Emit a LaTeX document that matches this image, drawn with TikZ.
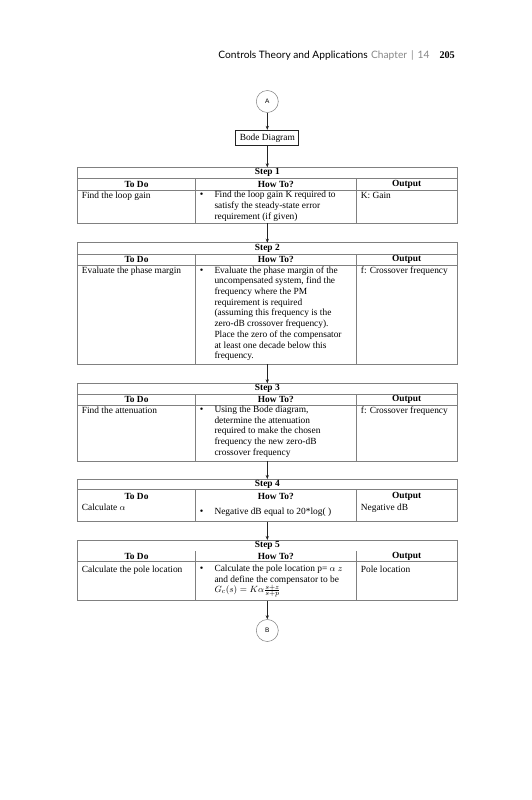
\documentclass[tikz,border=0pt]{standalone}
\usepackage{fontspec}
\setmainfont{Liberation Serif}
\setsansfont{Liberation Sans}
\newfontfamily\headfont{Lato}
\usepackage{xcolor}
\definecolor{rule-gray}{RGB}{128,128,128}
\definecolor{ink-dark}{RGB}{35,35,35}
\definecolor{head-gray}{RGB}{135,135,135}
\usetikzlibrary{arrows.meta,positioning}
\newcommand{\bodyfont}{\fontsize{9.4}{10.7}\selectfont}

\begin{document}
\begin{tikzpicture}[
    x=1pt, y=-1pt,
    connector/.style={
        circle,
        draw=rule-gray,
        line width=0.5pt,
        minimum size=22pt,
        inner sep=0pt,
        font=\sffamily\fontsize{6.5}{7}\selectfont
    },
    flow/.style={
        -{Stealth[length=4pt,width=3.2pt]},
        line width=0.6pt,
        draw=ink-dark
    },
    title box/.style={
        draw=ink-dark,
        line width=1.1pt,
        minimum width=63pt,
        minimum height=15pt,
        font=\bodyfont
    },
    cell/.style={
        draw=rule-gray,
        line width=0.5pt,
        anchor=north west,
        inner sep=0pt,
        outer sep=0pt
    },
    step row/.style={cell, minimum width=380pt, font=\bodyfont\bfseries},
    head cell/.style={cell, font=\bodyfont\bfseries},
    head text/.style={font=\bodyfont\bfseries, inner sep=0pt},
    col a/.style={minimum width=118.4pt},
    col b/.style={minimum width=160.3pt},
    col c/.style={minimum width=101.3pt},
    body text/.style={
        font=\bodyfont,
        align=left,
        inner sep=0pt,
        anchor=north west,
        execute at begin node=\strut
    },
    bullet mark/.style={font=\fontsize{10}{11}\selectfont, inner sep=0pt}
]

\path[use as bounding box, fill=white] (0,0) rectangle (531,800);

% Running head
\node[anchor=east, inner sep=0pt] (runhead) at (455,55.7) {%
    {\headfont\fontsize{10.2}{12}\selectfont Controls Theory and Applications\hspace{3.5pt}%
    \textcolor{head-gray}{Chapter\hspace{4pt}|\hspace{4pt}14}}\hspace{10pt}%
    {\fontsize{10.2}{12}\selectfont\bfseries 205}};

% Entry connector and title box
\node[connector] (A) at (267.3,101.5) {A};
\node[title box] (bode) at (267.3,138) {Bode Diagram};
\draw[flow] (A) -- (bode);

% === STEP 1 ===
\node[step row, minimum height=11pt] (s1) at (77.3,167.3) {Step 1};
\node[head cell, col a, minimum height=11.7pt] (s1todo) at (s1.south west) {To Do};
\node[head cell, col b, minimum height=11.7pt] (s1how) at (s1todo.north east) {How To?};
\node[head cell, col c, minimum height=11.7pt] (s1out) at (s1how.north east) {Output};
\node[cell, col a, minimum height=33.3pt] (s1a) at (s1todo.south west) {};
\node[cell, col b, minimum height=33.3pt] (s1b) at (s1a.north east) {};
\node[cell, col c, minimum height=33.3pt] (s1c) at (s1b.north east) {};
\node[body text] (s1what) at ([xshift=4.4pt,yshift=-1pt]s1a.north west) {Find the loop gain};
\node[bullet mark] (s1dot) at ([xshift=6pt,yshift=-5.6pt]s1b.north west) {\textbullet};
\node[body text] (s1steps) at ([xshift=18.6pt,yshift=-1pt]s1b.north west) {
    Find the loop gain K required to\\
    satisfy the steady-state error\\
    requirement (if given)};
\node[body text] (s1result) at ([xshift=4.7pt,yshift=-1pt]s1c.north west) {K: Gain};
\draw[flow] (bode) -- (s1);

% === STEP 2 ===
\node[step row, minimum height=11.3pt] (s2) at (77.3,242.7) {Step 2};
\node[head cell, col a, minimum height=11.3pt] (s2todo) at (s2.south west) {To Do};
\node[head cell, col b, minimum height=11.3pt] (s2how) at (s2todo.north east) {How To?};
\node[head cell, col c, minimum height=11.3pt] (s2out) at (s2how.north east) {Output};
\node[cell, col a, minimum height=98.7pt] (s2a) at (s2todo.south west) {};
\node[cell, col b, minimum height=98.7pt] (s2b) at (s2a.north east) {};
\node[cell, col c, minimum height=98.7pt] (s2c) at (s2b.north east) {};
\node[body text] (s2what) at ([xshift=4.4pt,yshift=-1pt]s2a.north west) {Evaluate the phase margin};
\node[bullet mark] (s2dot) at ([xshift=6pt,yshift=-5.6pt]s2b.north west) {\textbullet};
\node[body text] (s2steps) at ([xshift=18.6pt,yshift=-1pt]s2b.north west) {
    Evaluate the phase margin of the\\
    uncompensated system, find the\\
    frequency where the PM\\
    requirement is required\\
    (assuming this frequency is the\\
    zero-dB crossover frequency).\\
    Place the zero of the compensator\\
    at least one decade below this\\
    frequency.};
\node[body text] (s2result) at ([xshift=4.7pt,yshift=-1pt]s2c.north west) {f: Crossover frequency};
\draw[flow] (s1b.south -| s1) -- (s2);

% === STEP 3 ===
\node[step row, minimum height=11pt] (s3) at (77.3,383.3) {Step 3};
\node[head cell, col a, minimum height=10.5pt] (s3todo) at (s3.south west) {To Do};
\node[head cell, col b, minimum height=10.5pt] (s3how) at (s3todo.north east) {How To?};
\node[head cell, col c, minimum height=10.5pt] (s3out) at (s3how.north east) {Output};
\node[cell, col a, minimum height=56pt] (s3a) at (s3todo.south west) {};
\node[cell, col b, minimum height=56pt] (s3b) at (s3a.north east) {};
\node[cell, col c, minimum height=56pt] (s3c) at (s3b.north east) {};
\node[body text] (s3what) at ([xshift=4.4pt,yshift=-1pt]s3a.north west) {Find the attenuation};
\node[bullet mark] (s3dot) at ([xshift=6pt,yshift=-5.6pt]s3b.north west) {\textbullet};
\node[body text] (s3steps) at ([xshift=18.6pt,yshift=-1pt]s3b.north west) {
    Using the Bode diagram,\\
    determine the attenuation\\
    required to make the chosen\\
    frequency the new zero-dB\\
    crossover frequency};
\node[body text] (s3result) at ([xshift=4.7pt,yshift=-1pt]s3c.north west) {f: Crossover frequency};
\draw[flow] (s2b.south -| s2) -- (s3);

% === STEP 4 (no rule under the header) ===
\node[step row, minimum height=10.5pt] (s4) at (77.3,479) {Step 4};
\node[cell, col a, minimum height=32pt] (s4a) at (s4.south west) {};
\node[cell, col b, minimum height=32pt] (s4b) at (s4a.north east) {};
\node[cell, col c, minimum height=32pt] (s4c) at (s4b.north east) {};
\node[head text] (s4todo) at ([yshift=-7.2pt]s4a.north) {To Do};
\node[head text] (s4how) at ([yshift=-7.4pt]s4b.north) {How To?};
\node[head text] (s4out) at ([yshift=-6.6pt]s4c.north) {Output};
\node[body text] (s4what) at ([xshift=4.4pt,yshift=-13.8pt]s4a.north west) {Calculate $\alpha$};
\node[bullet mark] (s4dot) at ([xshift=6pt,yshift=-22.3pt]s4b.north west) {\textbullet};
\node[body text] (s4steps) at ([xshift=18.6pt,yshift=-17.7pt]s4b.north west) {Negative dB equal to 20*log( )};
\node[body text] (s4result) at ([xshift=4.7pt,yshift=-13.4pt]s4c.north west) {Negative dB};
\draw[rule-gray, line width=1.2pt] (s4a.south west) -- (s4c.south east);
\draw[flow] (s3b.south -| s3) -- (s4);

% === STEP 5 (title and header share one band) ===
\node[cell, minimum width=380pt, minimum height=60.7pt] (s5) at (77.3,540) {};
\node[head text] (s5title) at ([yshift=-5.7pt]s5.north) {Step 5};
\node[cell, col a, minimum height=39pt] (s5a) at ([yshift=-21.7pt]s5.north west) {};
\node[cell, col b, minimum height=39pt] (s5b) at (s5a.north east) {};
\node[cell, col c, minimum height=39pt] (s5c) at (s5b.north east) {};
\draw[rule-gray, line width=0.5pt] (s5a.north east) -- ++(0,-10.7);
\draw[rule-gray, line width=0.5pt] (s5b.north east) -- ++(0,-10.7);
\node[head text] (s5todo) at ([yshift=5pt]s5a.north) {To Do};
\node[head text] (s5how) at ([yshift=5pt]s5b.north) {How To?};
\node[head text] (s5out) at ([yshift=5pt]s5c.north) {Output};
\node[body text] (s5what) at ([xshift=4.4pt,yshift=-3pt]s5a.north west) {Calculate the pole location};
\node[bullet mark] (s5dot) at ([xshift=6pt,yshift=-7.6pt]s5b.north west) {\textbullet};
\node[body text] (s5steps) at ([xshift=18.6pt,yshift=-3pt]s5b.north west) {
    Calculate the pole location p= $\alpha$ $z$\\
    and define the compensator to be\\
    $G_c(s) = K\alpha\frac{s+z}{s+p}$};
\node[body text] (s5result) at ([xshift=4.7pt,yshift=-3pt]s5c.north west) {Pole location};
\draw[flow] (s4b.south -| s4) -- (s5);

% Exit connector
\node[connector] (B) at (267.3,630.5) {B};
\draw[flow] (s5b.south -| s5) -- (B);

\end{tikzpicture}
\end{document}
